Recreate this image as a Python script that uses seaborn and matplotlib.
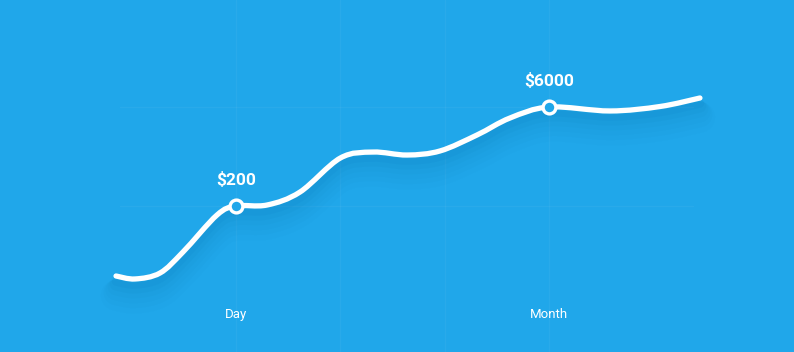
import matplotlib
matplotlib.use("Agg")
import matplotlib.pyplot as plt
import matplotlib.patheffects as pe
from matplotlib.path import Path
from matplotlib.patches import PathPatch
import seaborn as sns
import pandas as pd
import numpy as np

# ---- data ----
x_vals = [-1.149, -0.967, -0.728, -0.508, -0.182, 0.000, 0.297, 0.613, 1.000,
          1.312, 1.638, 1.954, 2.308, 2.625, 3.000, 3.582, 4.061, 4.444]
y_vals = [0.293, 0.263, 0.323, 0.535, 0.909, 1.000, 1.010, 1.141, 1.485,
          1.545, 1.515, 1.556, 1.717, 1.889, 2.000, 1.960, 2.005, 2.091]
marker_x = [0, 3]
marker_y = [1.0, 2.0]
marker_labels = ["$200", "$6000"]
category_x = [0, 3]
category_labels = ["Day", "Month"]

BG = "#20a7ea"

sns.set_theme(style="white")
plt.rcParams["font.family"] = ["Roboto", "DejaVu Sans"]

fig = plt.figure(figsize=(7.94, 3.52), dpi=100, facecolor=BG)
ax = fig.add_axes([0, 0, 1, 1])
ax.set_facecolor(BG)
ax.set_xlim(-2.2605, 5.345)
ax.set_ylim(-0.4747, 3.0808)
for s in ax.spines.values():
    s.set_visible(False)
ax.set_xticks([])
ax.set_yticks([])

# faint grid
for gx in [0, 1, 2, 3]:
    ax.axvline(gx, color="white", alpha=0.045, lw=1, zorder=0)
for gy in [1, 2]:
    ax.plot([-1.11, 4.378], [gy, gy], color="white", alpha=0.045, lw=1, zorder=0)

# smooth (Catmull-Rom rendered as cubic Bezier) line through the data knots
P = np.column_stack([x_vals, y_vals])
verts = [tuple(P[0])]
codes = [Path.MOVETO]
n = len(P)
for i in range(n - 1):
    p0 = P[i - 1] if i > 0 else P[i]
    p1, p2 = P[i], P[i + 1]
    p3 = P[i + 2] if i + 2 < n else P[i + 1]
    c1 = p1 + (p2 - p0) / 6.0
    c2 = p2 - (p3 - p1) / 6.0
    verts += [tuple(c1), tuple(c2), tuple(p2)]
    codes += [Path.CURVE4] * 3
path = Path(verts, codes)

shadow = []
for off, lw, a in [(-4, 6, 0.07), (-6, 9, 0.05), (-8, 12, 0.045),
                   (-10, 15, 0.035), (-12, 18, 0.03), (-14, 22, 0.02)]:
    shadow.append(pe.SimpleLineShadow(offset=(0, off), shadow_color="#0a6fa8",
                                      alpha=a, rho=1, linewidth=lw))
shadow.append(pe.Normal())
patch = PathPatch(path, facecolor="none", edgecolor="white", lw=3.8,
                  capstyle="round", joinstyle="round", zorder=3,
                  path_effects=shadow)
ax.add_patch(patch)

mdf = pd.DataFrame({"x": marker_x, "y": marker_y})
sns.scatterplot(data=mdf, x="x", y="y", ax=ax, s=85, color=BG,
                edgecolor="white", linewidth=2.4, zorder=5, legend=False)
ax.set_xlabel("")
ax.set_ylabel("")

for mx, my, lab in zip(marker_x, marker_y, marker_labels):
    ax.annotate(lab, (mx, my), xytext=(0, 19), textcoords="offset points",
                ha="center", va="center", color="white", fontsize=12.5,
                fontweight="bold", zorder=6)

for cx, lab in zip(category_x, category_labels):
    ax.text(cx, -0.091, lab, ha="center", va="center", color="white", fontsize=9.5)

fig.savefig("out.png", dpi=100, facecolor=BG)
